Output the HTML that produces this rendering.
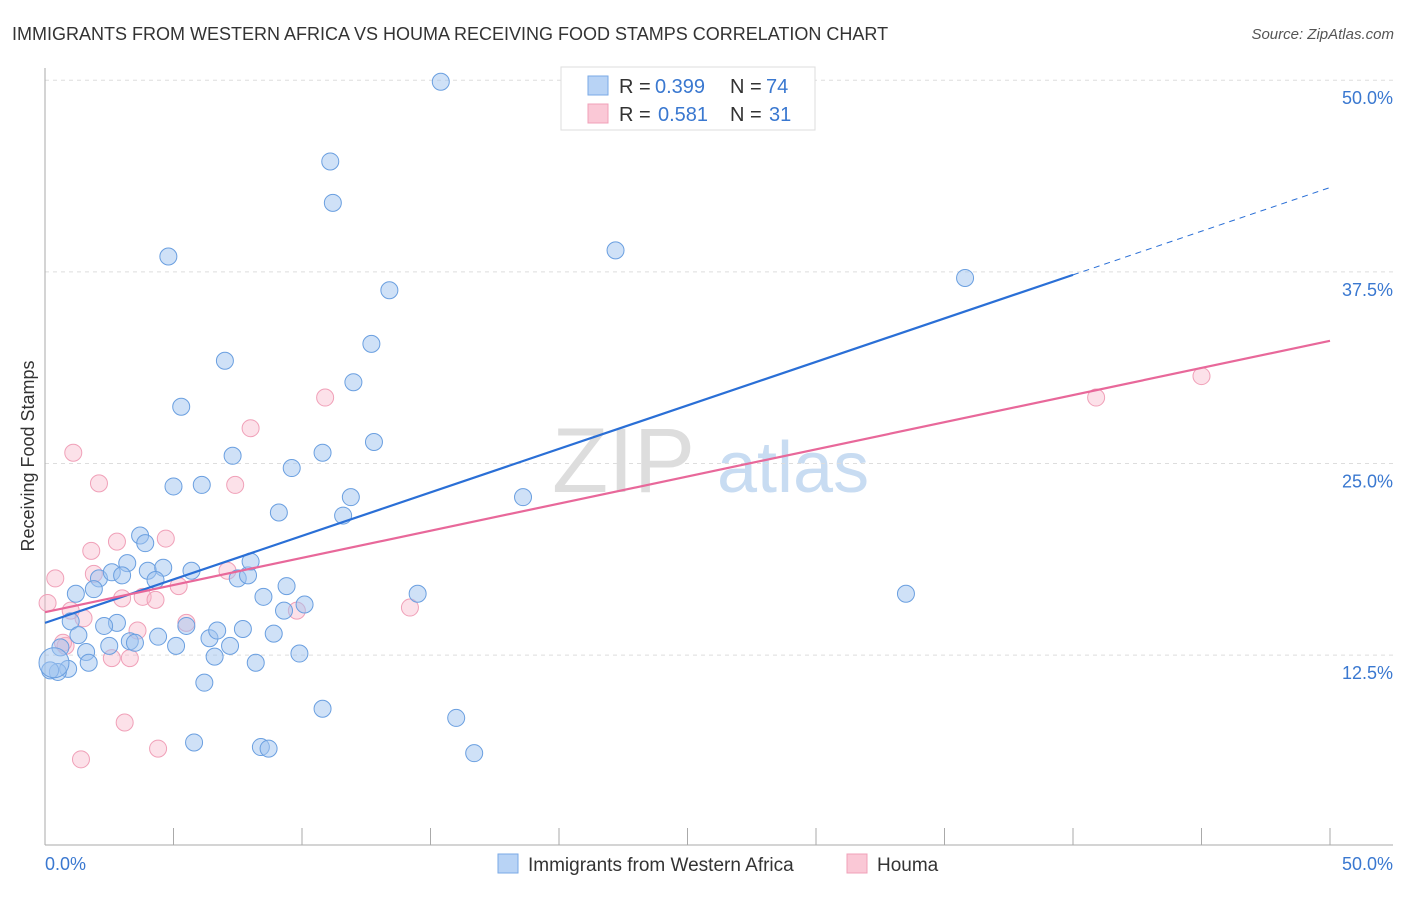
<!DOCTYPE html>
<html><head><meta charset="utf-8"><style>
body{margin:0;background:#fff;font-family:"Liberation Sans",sans-serif;}
svg text{font-family:"Liberation Sans",sans-serif;}
</style></head><body>
<svg id="chart" width="1406" height="892" xmlns="http://www.w3.org/2000/svg">
<text x="12" y="40" font-size="18" fill="#333">IMMIGRANTS FROM WESTERN AFRICA VS HOUMA RECEIVING FOOD STAMPS CORRELATION CHART</text>
<text x="1394" y="39" font-size="15" fill="#555" text-anchor="end" font-style="italic">Source: ZipAtlas.com</text>
<text x="0" y="0" transform="translate(34,456) rotate(-90)" font-size="18" fill="#333" text-anchor="middle">Receiving Food Stamps</text>
<g>
<text x="552" y="492" font-size="92" fill="#ddd" font-family="Liberation Serif,serif">ZIP</text>
<text x="717" y="492" font-size="72" fill="#c8dcf2">atlas</text>
</g>
<g id="grid"></g>
<g id="axes"></g>
<g id="marks"></g>
<g>
<rect x="561" y="67" width="254" height="63" fill="#fff" stroke="#ddd"/>
<rect x="588" y="76" width="20" height="19" fill="#b8d3f5" stroke="#7aaae6"/>
<rect x="588" y="104" width="20" height="19" fill="#fac8d6" stroke="#f0a0b8"/>
<text y="93" font-size="20" fill="#333"><tspan x="619">R =</tspan><tspan x="655" fill="#3a78d0">0.399</tspan><tspan x="730">N =</tspan><tspan x="766" fill="#3a78d0">74</tspan></text>
<text y="121" font-size="20" fill="#333"><tspan x="619">R =</tspan><tspan x="658" fill="#3a78d0">0.581</tspan><tspan x="730">N =</tspan><tspan x="769" fill="#3a78d0">31</tspan></text>
</g>
<g>
<rect x="498" y="854" width="20" height="19" fill="#b8d3f5" stroke="#7aaae6"/>
<text x="528" y="871" font-size="19" fill="#333">Immigrants from Western Africa</text>
<rect x="847" y="854" width="20" height="19" fill="#fac8d6" stroke="#f0a0b8"/>
<text x="877" y="871" font-size="19" fill="#333">Houma</text>
</g>
</svg>
<script>
const blueX=[15.4,11.1,11.2,4.8,22.2,35.8,13.4,12.7,7.0,12.0,5.3,12.8,7.3,10.8,9.6,5.0,6.1,11.9,18.6,9.1,11.6,3.7,3.9,3.2,2.1,2.6,3.0,4.0,4.6,4.3,5.7,7.5,7.9,8.0,1.2,1.9,8.5,9.4,14.5,33.5,9.3,10.1,1.0,2.8,2.3,5.5,1.3,4.4,3.3,3.5,6.4,6.7,7.7,8.9,2.5,5.1,7.2,0.6,1.6,9.9,6.6,8.2,1.7,0.9,0.5,0.2,6.2,10.8,16.0,5.8,8.4,8.7,16.7,0.35];
const blueY=[49.9,44.7,42.0,38.5,38.9,37.1,36.3,32.8,31.7,30.3,28.7,26.4,25.5,25.7,24.7,23.5,23.6,22.8,22.8,21.8,21.6,20.3,19.8,18.5,17.5,17.9,17.7,18.0,18.2,17.4,18.0,17.5,17.7,18.6,16.5,16.8,16.3,17.0,16.5,16.5,15.4,15.8,14.7,14.6,14.4,14.4,13.8,13.7,13.4,13.3,13.6,14.1,14.2,13.9,13.1,13.1,13.1,13.0,12.7,12.6,12.4,12.0,12.0,11.6,11.4,11.5,10.7,9.0,8.4,6.8,6.5,6.4,6.1,12.0];
const pinkX=[1.1,2.1,7.4,8.0,10.9,40.9,45.0,0.4,1.8,2.8,4.7,1.9,0.1,1.0,1.5,3.0,3.8,4.3,5.2,7.1,5.5,3.6,0.8,0.7,2.6,3.3,9.8,14.2,3.1,4.4,1.4];
const pinkY=[25.7,23.7,23.6,27.3,29.3,29.3,30.7,17.5,19.3,19.9,20.1,17.8,15.9,15.4,14.9,16.2,16.3,16.1,17.0,18.0,14.6,14.1,13.1,13.3,12.3,12.3,15.4,15.6,8.1,6.4,5.7];
const blueLine=[14.6,37.3,43.0]; // at x=0, x=40 (solid end), x=50
const pinkLine=[15.3,33.0]; // at x=0, x=50
const yTicks=[12.5,25.0,37.5,50.0];
const xTicks=[0,5,10,15,20,25,30,35,40,45,50];
const NS="http://www.w3.org/2000/svg";
const sx=v=>45+v*25.7;
const sy=v=>846.7-v*15.33;
function mk(tag,attrs,parent){const e=document.createElementNS(NS,tag);for(const k in attrs)e.setAttribute(k,attrs[k]);parent.appendChild(e);return e;}
const grid=document.getElementById('grid'),axes=document.getElementById('axes'),marks=document.getElementById('marks');
yTicks.forEach(t=>{
 const l=mk('line',{x1:45,x2:1393,y1:sy(t),y2:sy(t),stroke:'#ddd','stroke-dasharray':'4,4'},grid);
 
 
 const tx=mk('text',{x:1393,y:sy(t)+24,'font-size':18,fill:'#3a78d0','text-anchor':'end'},axes);
 tx.textContent=t.toFixed(1)+'%';
 
 
});
mk('line',{x1:45,x2:45,y1:68,y2:845,stroke:'#aaa'},axes);
mk('line',{x1:45,x2:1393,y1:845,y2:845,stroke:'#aaa'},axes);
xTicks.forEach(t=>{
 const l=mk('line',{x1:sx(t),x2:sx(t),y1:828,y2:845,stroke:'#aaa'},axes);
 
 
});
const xl=mk('text',{x:45,y:870,'font-size':18,fill:'#3a78d0'},axes);xl.textContent='0.0%';


const xr=mk('text',{x:1393,y:870,'font-size':18,fill:'#3a78d0','text-anchor':'end'},axes);xr.textContent='50.0%';


pinkX.forEach((x,i)=>{
 const c=mk('circle',{cx:sx(x),cy:sy(pinkY[i]),r:8.5,fill:'rgba(248,180,200,0.4)',stroke:'#f0a0b8','stroke-width':1},marks);
 
 
});
blueX.forEach((x,i)=>{
 const c=mk('circle',{cx:sx(x),cy:sy(blueY[i]),r:i==blueX.length-1?15:8.5,fill:'rgba(160,196,240,0.5)',stroke:'#6a9fe0','stroke-width':1},marks);
 
 
});
const bl=mk('line',{x1:sx(0),y1:sy(blueLine[0]),x2:sx(40),y2:sy(blueLine[1]),stroke:'#2a6fd6','stroke-width':2.2},marks);


const bd=mk('line',{x1:sx(40),y1:sy(blueLine[1]),x2:sx(50),y2:sy(blueLine[2]),stroke:'#2a6fd6','stroke-width':1,'stroke-dasharray':'6,5'},marks);


const pl=mk('line',{x1:sx(0),y1:sy(pinkLine[0]),x2:sx(50),y2:sy(pinkLine[1]),stroke:'#e8689a','stroke-width':2.2},marks);


</script>
</body></html>
